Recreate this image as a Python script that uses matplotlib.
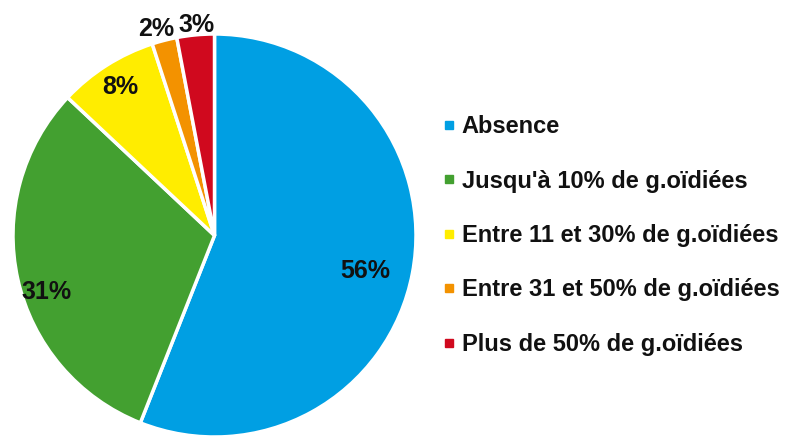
import matplotlib
matplotlib.use("Agg")
import matplotlib.pyplot as plt
from matplotlib.lines import Line2D
import numpy as np

categories = ["Absence", "Jusqu'à 10% de g.oïdiées", "Entre 11 et 30% de g.oïdiées",
              "Entre 31 et 50% de g.oïdiées", "Plus de 50% de g.oïdiées"]
values = [56, 31, 8, 2, 3]
labels = ["56%", "31%", "8%", "2%", "3%"]

colors = ["#009FE3", "#43A030", "#FFED00", "#F39200", "#D0091E"]
label_dist = [0.77, 0.88, 0.87, 1.065, 1.05]
label_off = [-2.5, 6.0, 0.0, 1.5, -0.5]

plt.rcParams['font.family'] = ['Liberation Sans', 'DejaVu Sans']

fig = plt.figure(figsize=(7.87, 4.38), dpi=100)
W, H = 787, 438
cx, cy, r = 214.5, 235.5, 201.5
ax = fig.add_axes([(cx - r) / W, (H - cy - r) / H, 2 * r / W, 2 * r / H])
wedges, _ = ax.pie(values, colors=colors, startangle=90, counterclock=False,
                   radius=1.0, wedgeprops=dict(edgecolor="white", linewidth=2.5))
ax.set_xlim(-1, 1)
ax.set_ylim(-1, 1)
ax.set_aspect("equal")
ax.axis("off")

for w, lab, d, off in zip(wedges, labels, label_dist, label_off):
    ang = np.deg2rad((w.theta1 + w.theta2) / 2 + off)
    ax.text(d * np.cos(ang), d * np.sin(ang), lab, ha="center", va="center",
            fontsize=18, fontweight="bold", color="#111111", clip_on=False)

handles = [Line2D([0], [0], marker="s", linestyle="none", markersize=5.5,
                  markerfacecolor=c, markeredgecolor=c) for c in colors]
leg = fig.legend(handles, categories, loc="center left",
                 bbox_to_anchor=(441.5 / W, (H - 235.5) / H), frameon=False,
                 prop=dict(family=['Liberation Sans', 'DejaVu Sans'], weight="bold", size=17),
                 handlelength=0.6, handletextpad=0.26, labelspacing=1.33,
                 borderpad=0, borderaxespad=0)
for t in leg.get_texts():
    t.set_color("#111111")

fig.savefig("out.png", dpi=100)
